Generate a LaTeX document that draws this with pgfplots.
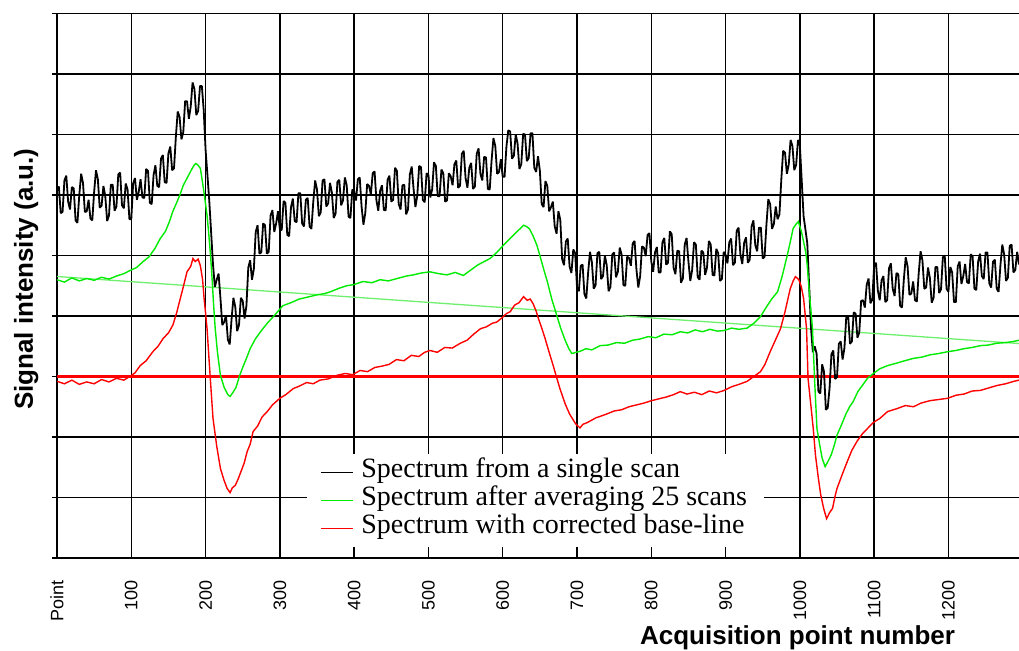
\documentclass[border=0pt]{standalone}
\usepackage{fontspec}
\setmainfont{Liberation Serif}
\setsansfont{Liberation Sans}
\usepackage{pgfplots}
\usepackage{pgfplotstable}
\pgfplotsset{compat=1.18}
\definecolor{specgreen}{RGB}{0,235,0}
\definecolor{basegreen}{RGB}{110,240,110}
\definecolor{specred}{RGB}{255,0,0}

\pgfplotstableread{
x y
0 3.07
2.5 3.14
5 2.70
7.5 2.72
10 3.24
12.5 3.32
15 2.89
17.5 2.76
20 3.13
22.5 3.11
25 2.58
27.5 2.54
30 3.00
32.5 3.35
35 3.20
37.5 2.72
40 2.73
42.5 2.92
45 2.61
47.5 2.58
50 3.05
52.5 3.41
55 3.26
57.5 2.79
60 2.82
62.5 3.15
65 2.98
67.5 2.57
70 2.66
72.5 3.17
75 3.17
77.5 2.74
80 2.81
82.5 3.34
85 3.37
87.5 2.83
90 2.78
92.5 3.19
95 3.09
97.5 2.60
100 2.60
102.5 3.19
105 3.28
107.5 2.92
110 3.05
112.5 3.26
115 2.96
117.5 2.95
120 3.43
122.5 3.40
125 2.87
127.5 2.85
130 3.33
132.5 3.49
135 3.15
137.5 3.13
140 3.60
142.5 3.66
145 3.21
147.5 3.20
150 3.69
152.5 3.80
155 3.41
157.5 3.44
160 3.96
162.5 4.38
165 4.29
167.5 3.92
170 4.04
172.5 4.55
175 4.55
177.5 4.26
180 4.46
182.5 4.86
185 4.75
187.5 4.32
190 4.39
192.5 4.80
195 4.80
197.5 4.40
200 3.75
202.5 3.33
205 2.90
207.5 2.38
210 1.85
212.5 1.48
215 1.60
217.5 1.70
220 1.30
222.5 0.85
225 0.90
227.5 1.01
230 0.61
232.5 0.53
235 0.95
237.5 1.30
240 1.15
242.5 0.75
245 0.85
247.5 1.30
250 1.25
252.5 0.96
255 1.17
257.5 1.80
260 1.92
262.5 1.60
265 1.78
267.5 2.39
270 2.50
272.5 2.03
275 2.05
277.5 2.53
280 2.50
282.5 2.03
285 2.06
287.5 2.66
290 2.75
292.5 2.39
295 2.53
297.5 2.73
300 2.43
302.5 2.42
305 2.90
307.5 2.87
310 2.34
312.5 2.32
315 2.80
317.5 2.94
320 2.57
322.5 2.55
325 3.03
327.5 3.03
330 2.53
332.5 2.48
335 2.92
337.5 2.95
340 2.48
342.5 2.44
345 2.89
347.5 3.24
350 3.09
352.5 2.65
355 2.71
357.5 3.24
360 3.26
362.5 2.81
365 2.86
367.5 3.20
370 3.04
372.5 2.62
375 2.69
377.5 3.22
380 3.25
382.5 2.83
385 2.91
387.5 3.29
390 3.16
392.5 2.64
395 2.62
397.5 3.09
400 3.06
402.5 2.91
405 3.26
407.5 3.29
410 2.81
412.5 2.51
415 2.70
417.5 3.18
420 3.15
422.5 3.01
425 3.36
427.5 3.39
430 2.91
432.5 2.74
435 3.07
437.5 3.16
440 2.75
442.5 2.75
445 3.25
447.5 3.32
450 2.89
452.5 2.92
455 3.45
457.5 3.40
460 2.85
462.5 2.76
465 3.16
467.5 3.17
470 2.68
472.5 2.76
475 3.34
477.5 3.47
480 3.10
482.5 2.80
485 2.99
487.5 3.48
490 3.46
492.5 2.92
495 2.88
497.5 3.36
500 3.33
502.5 2.96
505 3.09
507.5 3.54
510 3.48
512.5 2.98
515 2.98
517.5 3.42
520 3.36
522.5 2.89
525 2.91
527.5 3.36
530 3.31
532.5 3.16
535 3.51
537.5 3.57
540 3.12
542.5 3.15
545 3.68
547.5 3.73
550 3.28
552.5 3.12
555 3.45
557.5 3.53
560 3.10
562.5 3.14
565 3.68
567.5 3.77
570 3.35
572.5 3.24
575 3.63
577.5 3.62
580 3.10
582.5 3.09
585 3.57
587.5 3.94
590 3.81
592.5 3.35
595 3.38
597.5 3.59
600 3.30
602.5 3.30
605 3.80
607.5 4.07
610 4.05
612.5 3.60
615 3.65
617.5 4.00
620 3.85
622.5 3.43
625 3.51
627.5 4.01
630 4.00
632.5 3.56
635 3.61
637.5 4.02
640 4.02
642.5 3.45
645 3.38
647.5 3.64
650 3.40
652.5 2.85
655 2.80
657.5 3.23
660 3.15
662.5 2.73
665 2.80
667.5 2.89
670 2.48
672.5 2.36
675 2.73
677.5 2.59
680 1.94
682.5 1.84
685 2.23
687.5 2.28
690 1.82
692.5 1.71
695 2.10
697.5 2.04
700 1.48
702.5 1.41
705 1.83
707.5 1.85
710 1.36
712.5 1.29
715 1.72
717.5 2.06
720 1.89
722.5 1.45
725 1.51
727.5 2.04
730 2.06
732.5 1.61
735 1.66
737.5 2.00
740 1.84
742.5 1.41
745 1.48
747.5 2.02
750 2.05
752.5 1.64
755 1.73
757.5 2.13
760 2.02
762.5 1.51
765 1.50
767.5 1.98
770 1.96
772.5 1.83
775 2.20
777.5 2.24
780 1.77
782.5 1.47
785 1.66
787.5 2.15
790 2.13
792.5 1.99
795 2.34
797.5 2.37
800 1.90
802.5 1.73
805 2.05
807.5 2.14
810 1.72
812.5 1.72
815 2.22
817.5 2.29
820 1.85
822.5 1.88
825 2.40
827.5 2.35
830 1.80
832.5 1.69
835 2.08
837.5 2.07
840 1.55
842.5 1.62
845 2.18
847.5 2.29
850 1.90
852.5 1.58
855 1.76
857.5 2.22
860 2.18
862.5 1.64
865 1.60
867.5 2.08
870 2.05
872.5 1.68
875 1.80
877.5 2.24
880 2.18
882.5 1.68
885 1.67
887.5 2.11
890 2.04
892.5 1.58
895 1.61
897.5 2.06
900 2.01
902.5 1.87
905 2.22
907.5 2.28
910 1.84
912.5 1.88
915 2.41
917.5 2.46
920 2.01
922.5 1.86
925 2.21
927.5 2.30
930 1.88
932.5 1.93
935 2.48
937.5 2.58
940 2.17
942.5 2.07
945 2.46
947.5 2.46
950 1.95
952.5 1.98
955 2.51
957.5 2.93
960 2.85
962.5 2.44
965 2.52
967.5 2.81
970 2.60
972.5 2.68
975 3.25
977.5 3.73
980 3.70
982.5 3.35
985 3.50
987.5 3.91
990 3.81
992.5 3.41
995 3.50
997.5 3.91
1000 3.82
1002.5 3.24
1005 2.65
1007.5 2.43
1010 2.20
1012.5 1.50
1015 0.80
1017.5 0.40
1020 0.50
1022.5 0.38
1025 -0.25
1027.5 -0.28
1030 0.20
1032.5 0.08
1035 -0.55
1037.5 -0.52
1040 -0.19
1042.5 0.37
1045 0.43
1047.5 -0.04
1050 -0.01
1052.5 0.54
1055 0.58
1057.5 0.28
1060 0.47
1062.5 0.99
1065 1.00
1067.5 0.54
1070 0.58
1072.5 1.06
1075 1.04
1077.5 0.64
1080 0.73
1082.5 1.25
1085 1.26
1087.5 1.14
1090 1.52
1092.5 1.62
1095 1.21
1097.5 1.27
1100 1.83
1102.5 1.88
1105 1.42
1107.5 1.26
1110 1.59
1112.5 1.66
1115 1.23
1117.5 1.26
1120 1.79
1122.5 1.87
1125 1.45
1127.5 1.33
1130 1.71
1132.5 1.69
1135 1.17
1137.5 1.14
1140 1.61
1142.5 1.97
1145 1.82
1147.5 1.35
1150 1.37
1152.5 1.57
1155 1.26
1157.5 1.24
1160 1.71
1162.5 2.07
1165 1.92
1167.5 1.45
1170 1.47
1172.5 1.80
1175 1.63
1177.5 1.22
1180 1.30
1182.5 1.81
1185 1.81
1187.5 1.38
1190 1.44
1192.5 1.97
1195 2.00
1197.5 1.45
1200 1.40
1202.5 1.81
1205 1.72
1207.5 1.23
1210 1.23
1212.5 1.82
1215 1.90
1217.5 1.53
1220 1.66
1222.5 1.86
1225 1.56
1227.5 1.54
1230 2.02
1232.5 1.99
1235 1.45
1237.5 1.43
1240 1.90
1242.5 2.03
1245 1.66
1247.5 1.61
1250 2.05
1252.5 2.05
1255 1.54
1257.5 1.47
1260 1.90
1262.5 1.93
1265 1.45
1267.5 1.40
1270 1.84
1272.5 2.18
1275 2.02
1277.5 1.58
1280 1.63
1282.5 2.16
1285 2.18
1287.5 1.72
1290 1.76
1292.5 2.06
1295 1.85
}\blackdata

\pgfplotstableread{
x y
0 1.60
10 1.56
20 1.63
30 1.58
40 1.62
50 1.59
60 1.64
70 1.61
80 1.66
90 1.70
98 1.75
107 1.80
116 1.90
124 1.98
132 2.12
139 2.28
146 2.40
151 2.55
156 2.73
162 2.90
166 3.02
170 3.16
176 3.30
182 3.44
185 3.50
187 3.52
190 3.49
193 3.44
196 3.20
199 2.94
202 2.66
204 2.40
207 1.95
209 1.57
211 1.15
213 0.79
216 0.40
220 0.02
225 -0.18
230 -0.30
233 -0.33
237 -0.26
241 -0.18
246 0.02
250 0.15
255 0.30
260 0.46
267 0.62
274 0.74
283 0.88
292 1.00
304 1.17
315 1.22
326 1.28
340 1.32
350 1.35
360 1.37
368 1.40
380 1.46
390 1.50
400 1.52
412 1.57
424 1.55
435 1.60
446 1.58
458 1.62
470 1.66
480 1.68
490 1.71
502 1.73
514 1.70
525 1.68
536 1.72
547 1.67
557 1.76
566 1.84
575 1.90
583 1.95
592 2.05
601 2.17
610 2.28
618 2.38
624 2.45
628 2.50
632 2.48
636 2.44
641 2.32
646 2.17
650 2.00
655 1.78
660 1.57
666 1.28
673 1.00
678 0.80
684 0.60
689 0.46
693 0.38
699 0.40
705 0.42
712 0.46
720 0.44
731 0.51
742 0.52
753 0.56
764 0.55
775 0.60
785 0.62
796 0.66
806 0.64
817 0.70
828 0.69
839 0.74
849 0.72
859 0.77
869 0.74
879 0.78
889 0.75
898 0.76
908 0.80
918 0.78
929 0.80
938 0.88
947 0.99
955 1.15
962 1.28
970 1.40
976 1.65
983 2.00
987 2.22
991 2.45
995 2.52
998 2.56
1002 2.40
1005 2.23
1008 2.05
1010 1.83
1013 1.35
1017 0.79
1020 -0.10
1023 -0.86
1027 -1.15
1030 -1.35
1034 -1.49
1038 -1.40
1042 -1.30
1046 -1.15
1050 -0.97
1056 -0.80
1062 -0.62
1067 -0.50
1072 -0.41
1078 -0.25
1084 -0.15
1091 -0.03
1099 0.05
1108 0.13
1118 0.18
1130 0.22
1141 0.26
1153 0.30
1164 0.32
1176 0.36
1187 0.38
1199 0.41
1210 0.43
1221 0.46
1232 0.48
1243 0.51
1254 0.52
1265 0.55
1277 0.56
1288 0.58
1295 0.60
}\greendata

\pgfplotstableread{
x y
0 -0.08
10 -0.12
20 -0.06
30 -0.13
40 -0.09
50 -0.12
60 -0.05
70 -0.09
80 -0.03
90 -0.06
98 0.00
105 0.06
112 0.18
120 0.26
129 0.41
136 0.50
143 0.63
150 0.72
156 0.85
161 1.05
166 1.29
170 1.48
175 1.73
180 1.82
183 1.95
186 1.90
190 1.94
193 1.83
196 1.60
198 1.29
200 1.05
202 0.79
204 0.41
207 -0.15
210 -0.69
215 -1.15
220 -1.52
225 -1.72
229 -1.85
233 -1.92
236 -1.84
240 -1.80
244 -1.69
248 -1.56
252 -1.43
256 -1.24
260 -1.12
264 -0.91
270 -0.82
276 -0.67
283 -0.58
290 -0.47
300 -0.36
308 -0.30
318 -0.20
326 -0.16
336 -0.10
345 -0.12
354 -0.06
365 -0.04
377 0.02
388 0.05
398 0.03
408 0.10
418 0.08
428 0.15
437 0.17
447 0.20
457 0.28
467 0.26
477 0.35
487 0.33
495 0.40
502 0.43
512 0.40
522 0.48
532 0.47
543 0.55
552 0.60
561 0.70
570 0.79
578 0.82
586 0.88
592 0.90
600 0.98
605 1.04
610 1.07
616 1.18
622 1.22
628 1.32
633 1.26
637 1.28
641 1.20
645 1.08
648 0.96
652 0.82
657 0.63
662 0.42
667 0.22
671 0.05
677 -0.20
684 -0.45
690 -0.62
698 -0.78
704 -0.85
708 -0.79
714 -0.76
720 -0.72
726 -0.68
731 -0.66
740 -0.62
750 -0.57
760 -0.55
770 -0.50
780 -0.47
790 -0.44
800 -0.40
810 -0.37
820 -0.34
830 -0.30
839 -0.25
848 -0.29
858 -0.26
868 -0.30
878 -0.24
888 -0.27
898 -0.23
908 -0.17
918 -0.13
929 -0.08
938 0.00
947 0.08
953 0.20
960 0.41
967 0.60
974 0.79
980 1.07
987 1.45
991 1.58
994 1.65
997 1.62
999 1.59
1002 1.48
1005 1.29
1009 0.79
1011 -0.03
1015 -0.50
1018 -0.86
1021 -1.30
1025 -1.69
1028 -1.95
1032 -2.18
1036 -2.35
1040 -2.25
1044 -2.18
1047 -2.00
1050 -1.85
1057 -1.62
1064 -1.40
1070 -1.22
1077 -1.07
1084 -0.95
1091 -0.86
1099 -0.76
1108 -0.69
1118 -0.58
1131 -0.53
1142 -0.48
1153 -0.50
1163 -0.44
1175 -0.40
1187 -0.38
1199 -0.36
1210 -0.31
1221 -0.29
1232 -0.24
1243 -0.23
1254 -0.19
1265 -0.15
1277 -0.12
1288 -0.08
1295 -0.06
}\reddata

\begin{document}
\begin{tikzpicture}
\useasboundingbox (-57pt,-92pt) rectangle (962pt,558pt);
\begin{axis}[
  at={(0pt,0pt)}, anchor=south west,
  scale only axis, width=962pt, height=544.5pt,
  xmin=0, xmax=1295, ymin=-3, ymax=6,
  axis x line*=bottom, axis y line*=left,
  axis line style={black, line width=1.5pt},
  grid=major, grid style={black, line width=1.5pt},
  xtick={0,100,...,1200},
  xticklabels={Point,100,200,300,400,500,600,700,800,900,1000,1100,1200},
  xtick style={draw=none},
  xticklabel style={rotate=90, anchor=east, inner sep=0pt, font=\fontsize{18}{18}\selectfont\sffamily},
  xticklabel shift=17pt,
  ytick={-3,-2,-1,0,1,2,3,4,5,6}, yticklabels={},
  ytick style={black, line width=1.5pt},
  major tick length=5pt, tick align=outside,
  xlabel={Acquisition point number},
  xlabel style={at={(axis description cs:0.7698,-0.158)}, anchor=base, inner sep=0pt, font=\fontsize{26}{26}\selectfont\sffamily\bfseries},
  ylabel={Signal intensity (a.u.)},
  ylabel style={at={(axis description cs:-0.025,0.512)}, anchor=base, inner sep=0pt, font=\fontsize{26}{26}\selectfont\sffamily\bfseries},
  legend cell align=left,
  legend image code/.code={\draw[#1, line width=1pt] (0pt,0pt) -- (32pt,0pt);},
  legend style={at={(axis cs:336.7,-1.273)}, anchor=north west, draw=none, fill=white,
    inner xsep=13pt, inner ysep=4.5pt, row sep=0pt, column sep=4pt,
    font=\fontsize{28}{28}\selectfont,
    nodes={text height=18pt, text depth=7pt, inner ysep=1.5pt, inner xsep=4pt}},
]
\addplot[specred, line width=2.2pt, forget plot] coordinates {(0,0) (1295,0)};
\addplot[basegreen, line width=1.3pt, forget plot] coordinates {(0,1.653) (1295,0.545)};
\addplot[black, line width=1.8pt, line join=bevel] table {\blackdata};
\addlegendentry{Spectrum from a single scan}
\addplot[specgreen, line width=1.4pt] table {\greendata};
\addlegendentry{Spectrum after averaging 25 scans\hspace{36pt}}
\addplot[specred, line width=1.4pt] table {\reddata};
\addlegendentry{Spectrum with corrected base-line}
\end{axis}
\end{tikzpicture}
\end{document}
